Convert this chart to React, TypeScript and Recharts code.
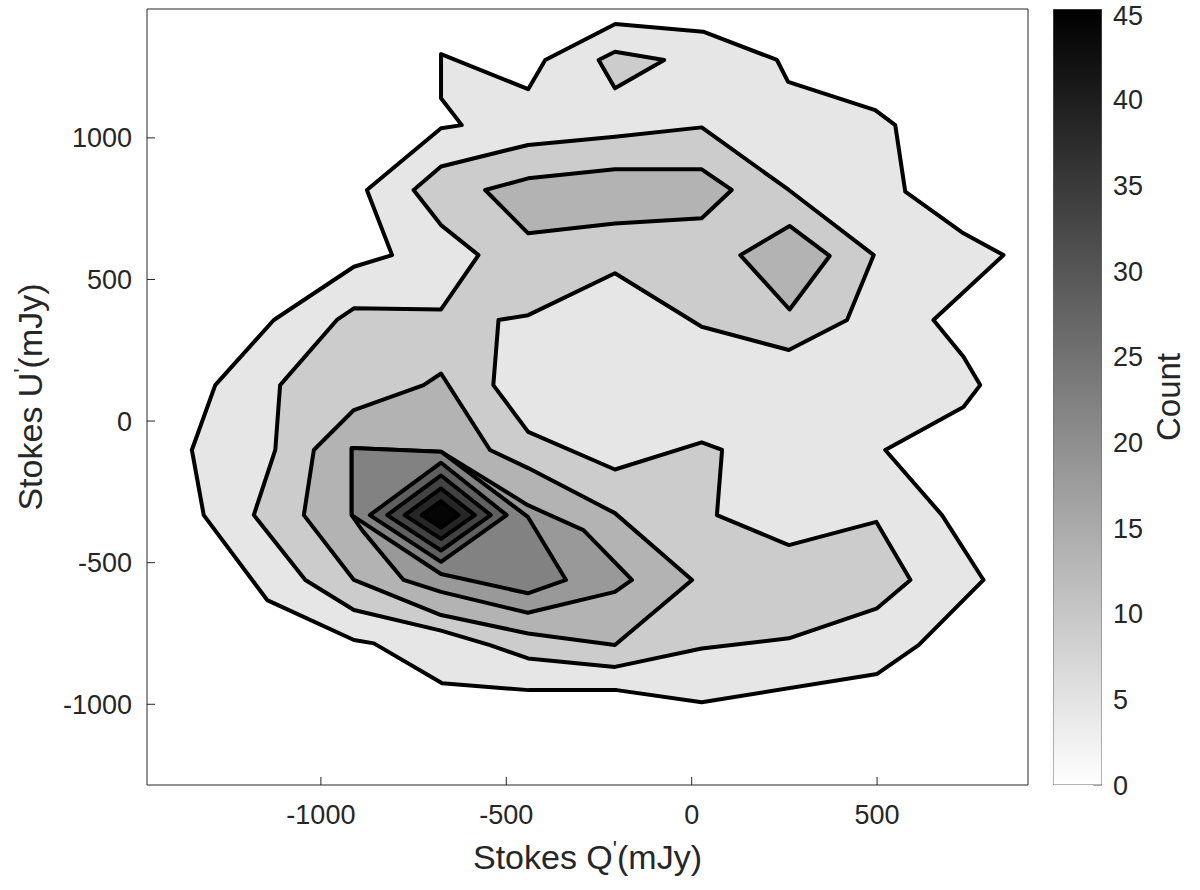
import React from 'react';
import { ScatterChart, Scatter, XAxis, YAxis, Label } from 'recharts';

// ---- axes ----
const X_DOMAIN: [number, number] = [-1469, 907];
const Y_DOMAIN: [number, number] = [-1285, 1455];
const X_TICKS = [-1000, -500, 0, 500];
const Y_TICKS = [-1000, -500, 0, 500, 1000];
const CBAR_MAX = 45.3;
const CBAR_TICKS = [0, 5, 10, 15, 20, 25, 30, 35, 40, 45];

// ---- filled-band greys, from the outermost band to the peak ----
const BAND_FILLS = ['#e6e6e6', '#cccccc', '#b3b3b3', '#999999', '#828282', '#5f5f5f', '#424242', '#262626', '#050505'];

// ---- contour polygons [Q', U'] in mJy ----
const BAND1_OUTER = [
  [-676, 1296], [-441, 1172], [-395, 1275], [-206, 1402], [31, 1375], [230, 1275], [260, 1198],
  [495, 1098], [549, 1045], [576, 810], [733, 663], [841, 586], [652, 357], [733, 227], [778, 127],
  [733, 50], [522, -102], [675, -332], [787, -561], [612, -791], [500, -893], [27, -993],
  [-202, -950], [-440, -950], [-673, -926], [-857, -785], [-911, -773], [-1145, -632],
  [-1316, -332], [-1348, -102], [-1285, 127], [-1127, 357], [-911, 545], [-808, 586],
  [-876, 816], [-676, 1034], [-620, 1045], [-676, 1140],
];
const BAND2_ISLAND = [[-251, 1275], [-207, 1304], [-74, 1275], [-207, 1175]];
const BAND2_MAIN = [
  [-750, 816], [-676, 899], [-441, 975], [-207, 1004], [27, 1037], [262, 816], [491, 586],
  [419, 357], [262, 251], [27, 333], [-207, 522], [-441, 374], [-521, 357], [-535, 127],
  [-441, -38], [-207, -171], [27, -75], [82, -102], [68, -332], [262, -438], [498, -356],
  [590, -561], [500, -661], [262, -767], [27, -803], [-207, -868], [-441, -838], [-544, -791],
  [-676, -740], [-911, -667], [-1042, -561], [-1181, -332], [-1123, -102], [-1110, 127],
  [-957, 357], [-911, 398], [-676, 394], [-575, 586], [-676, 692],
];
const BAND3_BAR = [[-557, 816], [-441, 857], [-207, 889], [27, 889], [108, 816], [27, 716], [-207, 698], [-441, 663]];
const BAND3_DIAMOND = [[131, 586], [264, 689], [372, 583], [264, 394]];
const BAND3_LOWER = [
  [-676, 168], [-544, -102], [-441, -166], [-207, -325], [1, -561], [-207, -791], [-441, -750],
  [-676, -685], [-911, -561], [-1046, -332], [-1019, -102], [-911, 39], [-723, 127],
];
const BAND4_CORE = [
  [-917, -95], [-676, -108], [-442, -297], [-292, -385], [-161, -561], [-207, -603],
  [-442, -677], [-676, -603], [-777, -561], [-889, -385], [-917, -332],
];
const BAND5_CORE = [[-917, -95], [-676, -108], [-442, -338], [-339, -561], [-442, -608], [-676, -540], [-917, -332]];
const BAND6_PEAK = [[-868, -332], [-676, -147], [-499, -332], [-676, -497]];
const BAND7_PEAK = [[-821, -332], [-676, -192], [-542, -332], [-676, -457]];
const BAND8_PEAK = [[-774, -332], [-676, -238], [-585, -332], [-676, -416]];
const BAND9_PEAK = [[-728, -332], [-676, -283], [-629, -332], [-676, -376]];

const LAYERS: { band: number; poly: number[][] }[] = [
  { band: 1, poly: BAND1_OUTER },
  { band: 2, poly: BAND2_ISLAND },
  { band: 2, poly: BAND2_MAIN },
  { band: 3, poly: BAND3_BAR },
  { band: 3, poly: BAND3_DIAMOND },
  { band: 3, poly: BAND3_LOWER },
  { band: 4, poly: BAND4_CORE },
  { band: 5, poly: BAND5_CORE },
  { band: 6, poly: BAND6_PEAK },
  { band: 7, poly: BAND7_PEAK },
  { band: 8, poly: BAND8_PEAK },
  { band: 9, poly: BAND9_PEAK },
];

// colour bar outline, in colour-bar units
const CBAR_BOX = [[0, 0], [1, 0], [1, CBAR_MAX], [0, CBAR_MAX]];

const FONT = '"Liberation Sans", Arial, Helvetica, sans-serif';
const TXT = '#262626';

const polygonLine = (fill: string) => (props: any) => {
  const pts: { x: number; y: number }[] = props.points || [];
  if (!pts.length) return <g />;
  const d = pts.map((p, i) => `${i ? 'L' : 'M'}${p.x},${p.y}`).join(' ') + ' Z';
  return <path d={d} fill={fill} stroke="#000" strokeWidth={4} strokeLinejoin="round" />;
};
const gradientBox = (props: any) => {
  const pts: { x: number; y: number }[] = props.points || [];
  if (!pts.length) return <g />;
  const d = pts.map((p, i) => `${i ? 'L' : 'M'}${p.x},${p.y}`).join(' ') + ' Z';
  return (
    <g>
      <defs>
        <linearGradient id="cbarGrad" x1="0" y1="0" x2="0" y2="1">
          <stop offset="0%" stopColor="#000" />
          <stop offset="100%" stopColor="#fff" />
        </linearGradient>
      </defs>
      <path d={d} fill="url(#cbarGrad)" stroke="#6a6a6a" strokeWidth={1} />
    </g>
  );
};
const noDot = () => <g />;

const XLabel = (props: any) => {
  const vb = props.viewBox || { x: 0, y: 0, width: 0, height: 0 };
  const cx = vb.x + vb.width / 2;
  return (
    <text x={cx} y={869} textAnchor="middle" fontFamily={FONT} fontSize={34} fill={TXT}>
      Stokes Q<tspan dy={-13} fontSize={22}>'</tspan>
      <tspan dy={13}>(mJy)</tspan>
    </text>
  );
};
const YLabel = (props: any) => {
  const vb = props.viewBox || { x: 0, y: 0, width: 0, height: 0 };
  const cy = vb.y + vb.height / 2;
  const cx = 42;
  return (
    <text x={cx} y={cy} transform={`rotate(-90 ${cx} ${cy})`} textAnchor="middle" fontFamily={FONT} fontSize={34} fill={TXT}>
      Stokes U<tspan dy={-13} fontSize={22}>'</tspan>
      <tspan dy={13}>(mJy)</tspan>
    </text>
  );
};
const CountLabel = (props: any) => {
  const vb = props.viewBox || { x: 0, y: 0, width: 0, height: 0 };
  const cy = vb.y + vb.height / 2;
  const cx = 200;
  return (
    <text x={cx} y={cy} transform={`rotate(-90 ${cx} ${cy})`} textAnchor="middle" fontFamily={FONT} fontSize={33} fill={TXT}>
      Count
    </text>
  );
};

const tickStyle = { fontFamily: FONT, fontSize: 27, fill: TXT };
const frameLine = { stroke: TXT, strokeWidth: 1 };

export default function App() {
  return (
    <div style={{ position: 'absolute', left: 0, top: 0, width: 1200, height: 890, background: '#fff', overflow: 'hidden' }}>
      <div style={{ position: 'absolute', left: 0, top: 0 }}>
        <ScatterChart width={1200} height={890} margin={{ top: 8, right: 171, bottom: 65, left: 67 }}>
          <XAxis
            xAxisId="x"
            dataKey="x"
            type="number"
            domain={X_DOMAIN}
            ticks={X_TICKS}
            allowDataOverflow
            height={40}
            tickSize={-8}
            tickMargin={28}
            tick={tickStyle}
            axisLine={frameLine}
            tickLine={frameLine}
          >
            <Label content={<XLabel />} />
          </XAxis>
          <XAxis
            xAxisId="top"
            orientation="top"
            dataKey="x"
            type="number"
            domain={X_DOMAIN}
            ticks={X_TICKS}
            allowDataOverflow
            height={1}
            tickSize={-8}
            tick={false}
            axisLine={frameLine}
            tickLine={frameLine}
          />
          <YAxis
            yAxisId="y"
            dataKey="y"
            type="number"
            domain={Y_DOMAIN}
            ticks={Y_TICKS}
            allowDataOverflow
            width={80}
            tickSize={-8}
            tickMargin={23}
            tick={tickStyle}
            axisLine={frameLine}
            tickLine={frameLine}
          >
            <Label content={<YLabel />} />
          </YAxis>
          <YAxis
            yAxisId="right"
            orientation="right"
            dataKey="y"
            type="number"
            domain={Y_DOMAIN}
            ticks={Y_TICKS}
            allowDataOverflow
            width={1}
            tickSize={-8}
            tick={false}
            axisLine={frameLine}
            tickLine={frameLine}
          />
          {LAYERS.map((layer, i) => (
            <Scatter
              key={i}
              xAxisId="x"
              yAxisId="y"
              data={layer.poly.map(([x, y]) => ({ x, y }))}
              line={polygonLine(BAND_FILLS[layer.band - 1])}
              lineType="joint"
              shape={noDot}
              isAnimationActive={false}
            />
          ))}
          <Scatter
            xAxisId="top"
            yAxisId="right"
            data={[{ x: X_DOMAIN[0], y: Y_DOMAIN[0] }]}
            shape={noDot}
            isAnimationActive={false}
          />
        </ScatterChart>
      </div>
      <div style={{ position: 'absolute', left: 980, top: 0 }}>
        <ScatterChart width={220} height={890} margin={{ top: 9, right: 38, bottom: 105, left: 73 }}>
          <XAxis xAxisId="cb" dataKey="x" type="number" domain={[0, 1]} hide allowDataOverflow />
          <YAxis
            yAxisId="cb"
            orientation="right"
            dataKey="y"
            type="number"
            domain={[0, CBAR_MAX]}
            ticks={CBAR_TICKS}
            allowDataOverflow
            width={60}
            tickSize={-9}
            tickMargin={20}
            tick={tickStyle}
            axisLine={false}
            tickLine={{ stroke: '#555', strokeWidth: 1 }}
          >
            <Label content={<CountLabel />} />
          </YAxis>
          <Scatter
            xAxisId="cb"
            yAxisId="cb"
            data={CBAR_BOX.map(([x, y]) => ({ x, y }))}
            line={gradientBox}
            lineType="joint"
            shape={noDot}
            isAnimationActive={false}
          />
        </ScatterChart>
      </div>
    </div>
  );
}
